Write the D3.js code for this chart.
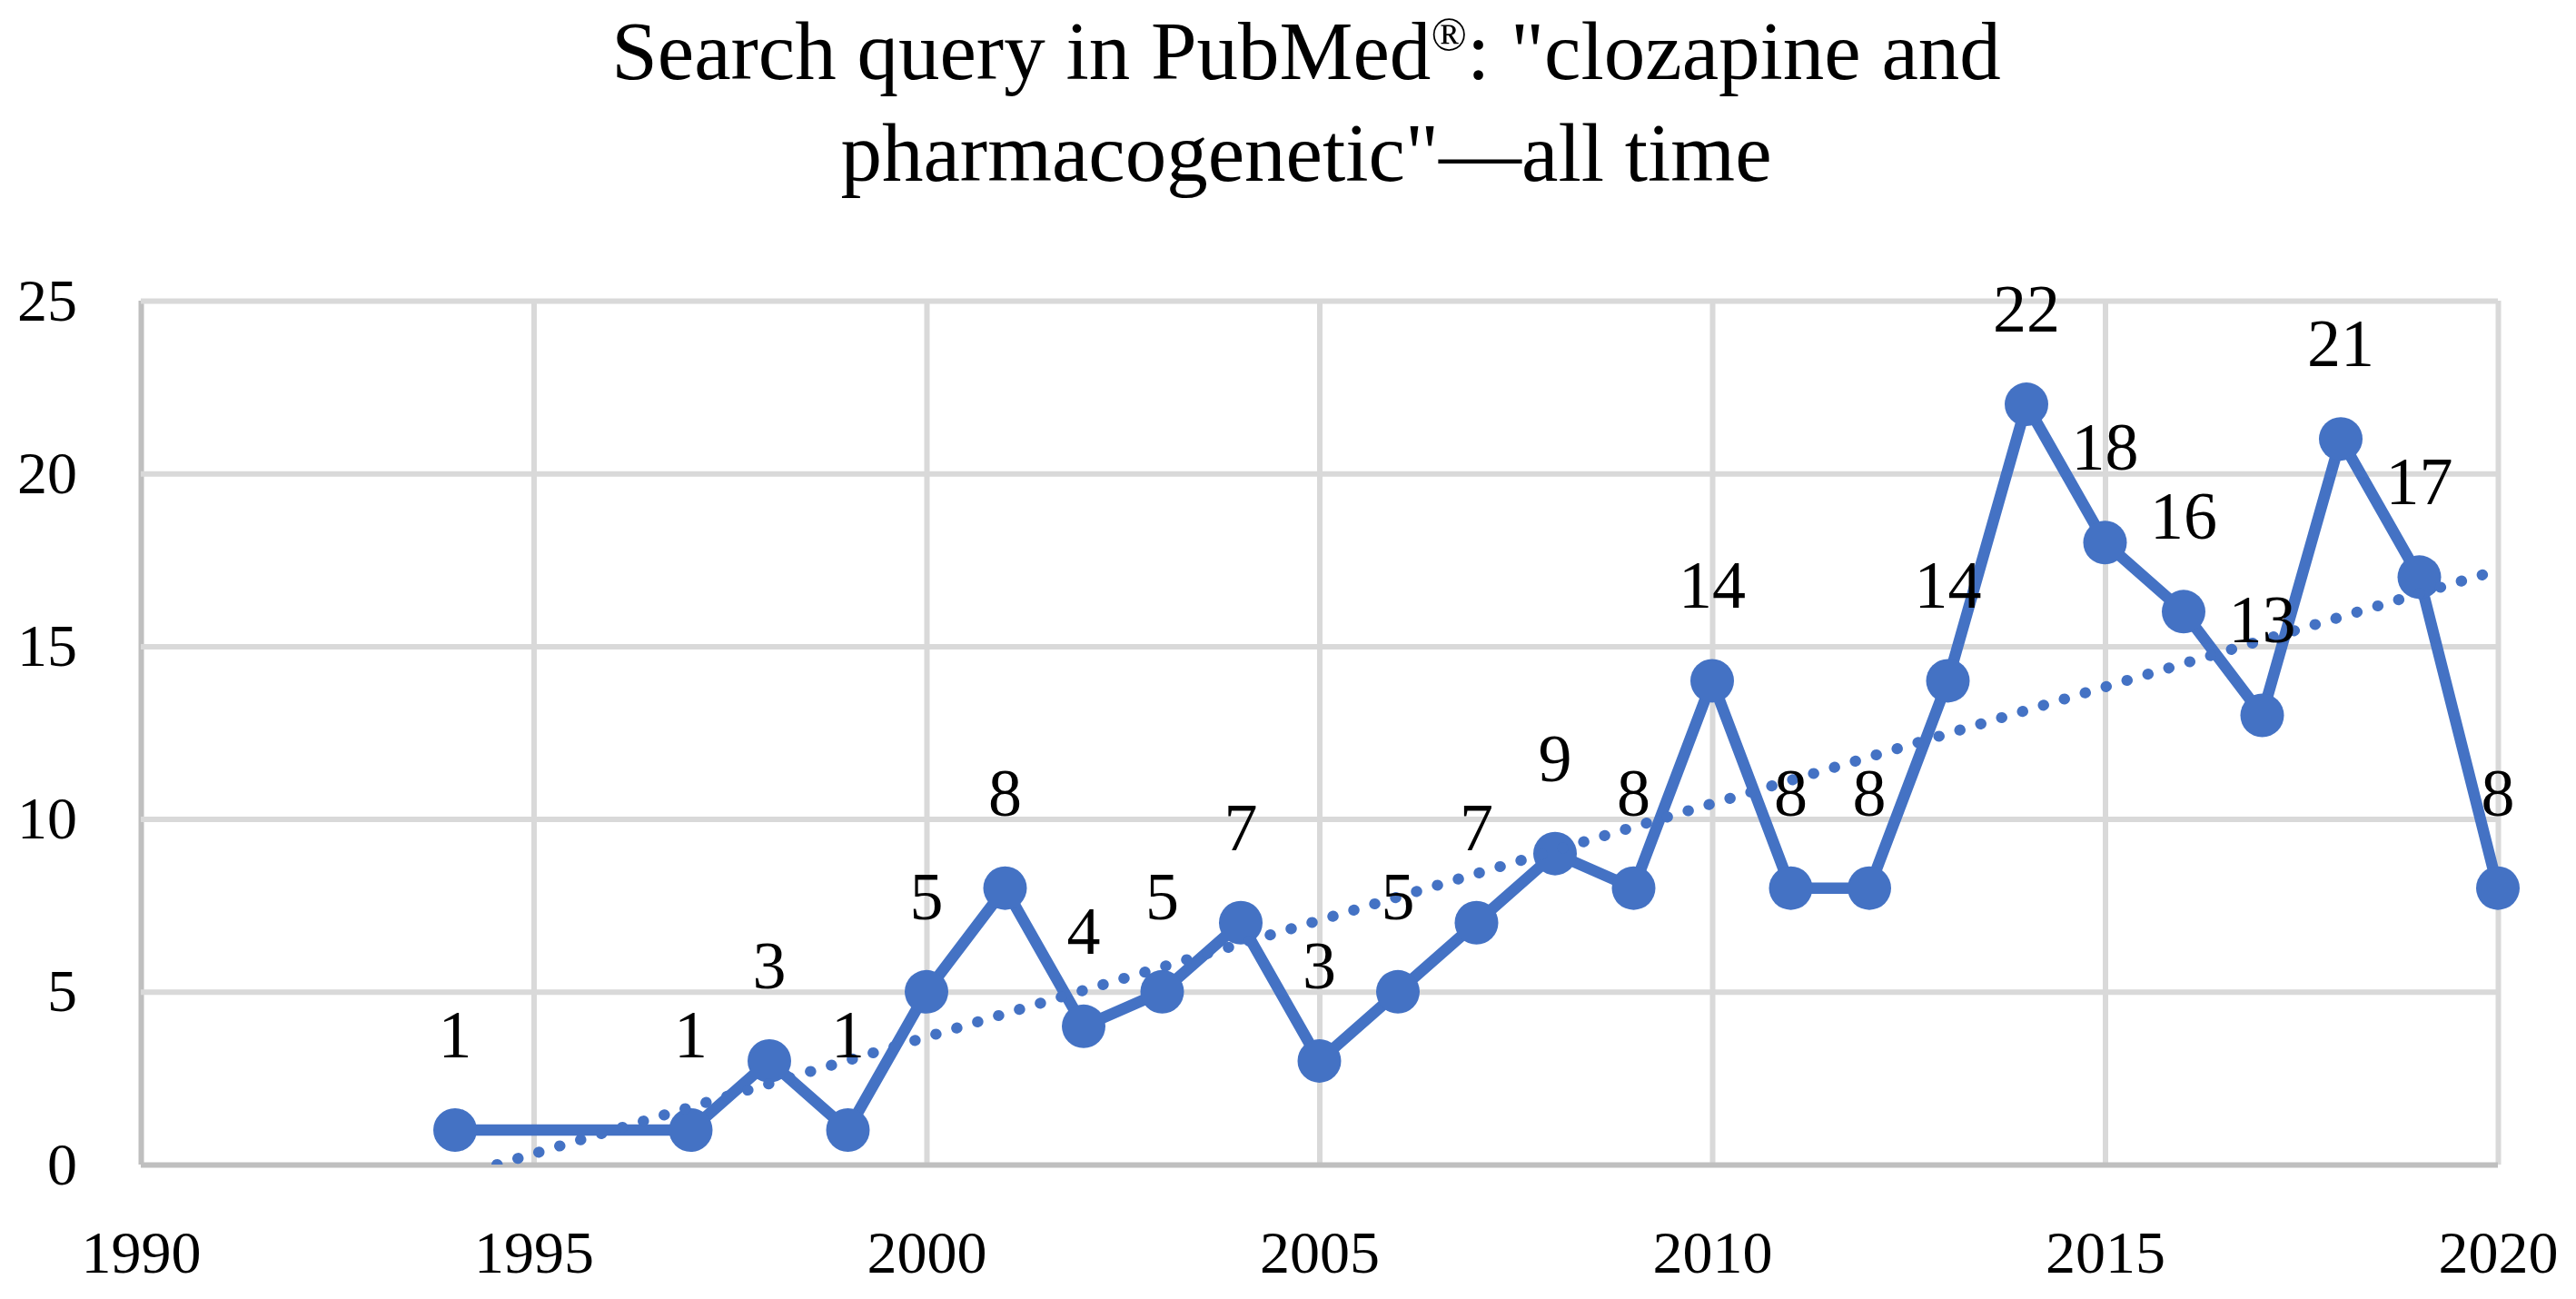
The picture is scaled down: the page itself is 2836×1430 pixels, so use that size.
<!DOCTYPE html>
<html>
<head>
<meta charset="utf-8">
<script src="https://cdn.jsdelivr.net/npm/d3@7"></script>
<style>
  body { margin: 0; background: #fff; }
  text { font-family: "Liberation Serif", "Times New Roman", serif; fill: #000; }
</style>
</head>
<body>
<div id="chart-area"></div>
<script>
const YEARS = [1994, 1997, 1998, 1999, 2000, 2001, 2002, 2003, 2004, 2005, 2006, 2007, 2008,
  2009, 2010, 2011, 2012, 2013, 2014, 2015, 2016, 2017, 2018, 2019, 2020];
const COUNTS = [1, 1, 3, 1, 5, 8, 4, 5, 7, 3, 5, 7, 9, 8, 14, 8, 8, 14, 22, 18, 16, 13, 21, 17, 8];
const X_TICKS = [1990, 1995, 2000, 2005, 2010, 2015, 2020];
const Y_TICKS = [0, 5, 10, 15, 20, 25];
const TITLE_LINES = ['Search query in PubMed', '"clozapine and', 'pharmacogenetic"\u2014all time'];

const BLUE = '#4472C4';

const DATA = YEARS.map((year, i) => ({ year, value: COUNTS[i] }));

// linear trendline, least squares like the spreadsheet does it
const fitTrend = () => {
  const n = DATA.length;
  const mx = d3.mean(DATA, d => d.year);
  const my = d3.mean(DATA, d => d.value);
  const sxy = d3.sum(DATA, d => (d.year - mx) * (d.value - my));
  const sxx = d3.sum(DATA, d => (d.year - mx) ** 2);
  const slope = sxy / sxx;
  const first = YEARS[0], last = YEARS[n - 1];
  return [
    { year: first, value: my + slope * (first - mx) },
    { year: last, value: my + slope * (last - mx) },
  ];
};

const margin = { top: 331, right: 86, bottom: 148, left: 155 };
const width = 2836 - margin.left - margin.right;
const height = 1430 - margin.top - margin.bottom;

const x = d3.scaleLinear()
  .domain([1990, 2020])
  .range([0, width]);

const y = d3.scaleLinear()
  .domain([0, 25])
  .range([height, 0]);

const svg = d3.select('#chart-area')
  .append('svg')
  .attr('width', 2836)
  .attr('height', 1430);

// title
const title = svg.append('text')
  .attr('text-anchor', 'middle')
  .style('font-size', '91px');

const line1 = title.append('tspan')
  .attr('x', 1438)
  .attr('y', 87);
line1.append('tspan').text(TITLE_LINES[0]);
line1.append('tspan')
  .attr('dy', -32)
  .style('font-size', '52px')
  .text('\u00AE');
line1.append('tspan')
  .attr('dy', 32)
  .text(': ' + TITLE_LINES[1]);

title.append('tspan')
  .attr('x', 1438)
  .attr('y', 199)
  .text(TITLE_LINES[2]);

const chart = svg.append('g')
  .attr('transform', 'translate(' + margin.left + ',' + margin.top + ')');

chart.append('defs')
  .append('clipPath')
  .attr('id', 'clip')
  .append('rect')
  .attr('x', 0)
  .attr('y', 0)
  .attr('width', width)
  .attr('height', height);

const xAxis = d3.axisBottom(x)
  .tickValues(X_TICKS)
  .tickFormat(d3.format('d'))
  .tickSize(-height)
  .tickPadding(72);

const yAxis = d3.axisLeft(y)
  .tickValues(Y_TICKS)
  .tickSize(-width)
  .tickPadding(70);

chart.append('g')
  .attr('class', 'x-axis')
  .attr('transform', 'translate(0,' + height + ')')
  .call(xAxis);

chart.append('g')
  .attr('class', 'y-axis')
  .call(yAxis);

chart.selectAll('.domain').remove();
chart.selectAll('.tick line')
  .attr('stroke', '#d9d9d9')
  .attr('stroke-width', 6);
chart.selectAll('.tick text')
  .style('font-size', '66px');

// axis lines are a bit darker than the grid
chart.select('.x-axis').selectAll('.tick')
  .filter(d => d === 1990)
  .select('line')
  .attr('stroke', '#bfbfbf')
  .raise();
chart.select('.y-axis').selectAll('.tick')
  .filter(d => d === 0)
  .raise()
  .select('line')
  .attr('stroke', '#bfbfbf');

const lineGenerator = d3.line()
  .x(d => x(d.year))
  .y(d => y(d.value));

chart.append('path')
  .datum(DATA)
  .attr('class', 'line')
  .attr('fill', 'none')
  .attr('stroke', BLUE)
  .attr('stroke-width', 12.5)
  .attr('stroke-linejoin', 'round')
  .attr('d', lineGenerator);

chart.append('g')
  .attr('class', 'dots-group')
  .attr('fill', BLUE)
  .selectAll('circle')
  .data(DATA)
  .enter()
  .append('circle')
  .attr('class', 'dot')
  .attr('cx', d => x(d.year))
  .attr('cy', d => y(d.value))
  .attr('r', 24);

chart.append('path')
  .datum(fitTrend())
  .attr('class', 'trend')
  .attr('clip-path', 'url(#clip)')
  .attr('fill', 'none')
  .attr('stroke', BLUE)
  .attr('stroke-width', 12)
  .attr('stroke-linecap', 'round')
  .attr('stroke-dasharray', '0.5 23.5')
  .attr('d', lineGenerator);

chart.append('g')
  .attr('class', 'labels')
  .selectAll('text')
  .data(DATA)
  .enter()
  .append('text')
  .attr('text-anchor', 'middle')
  .attr('x', d => x(d.year))
  .attr('y', d => y(d.value) - 80)
  .style('font-size', '74px')
  .text(d => d.value);
</script>
</body>
</html>
